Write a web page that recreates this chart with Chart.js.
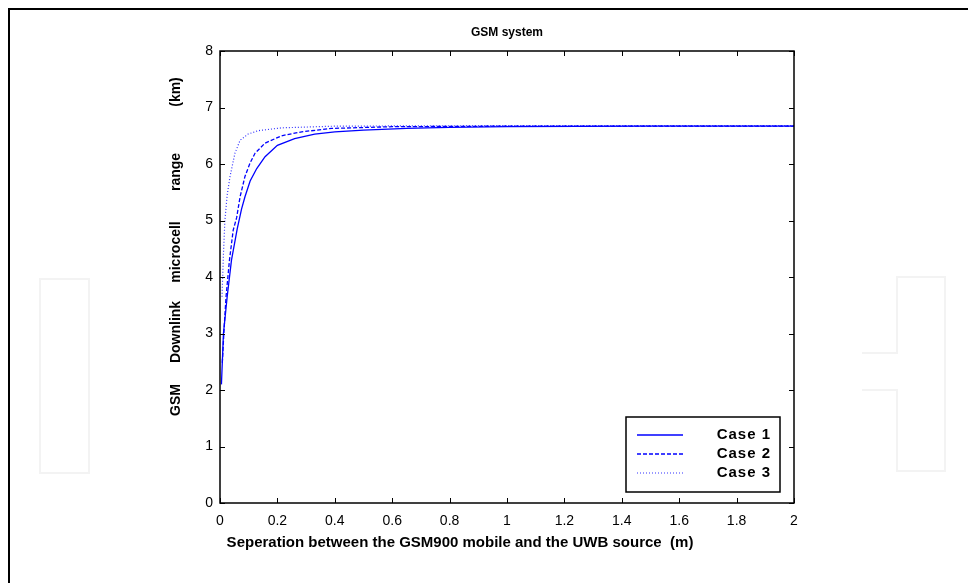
<!DOCTYPE html>
<html>
<head>
<meta charset="utf-8">
<title>GSM system</title>
<script src="https://cdn.jsdelivr.net/npm/chart.js@4"></script>
<style>
    html, body { margin: 0; padding: 0; background: #fff; }
    #wrap { width: 968px; height: 583px; position: relative; }
</style>
</head>
<body>
<div id="wrap"><canvas id="gsmChart" width="968" height="583"></canvas></div>
<script>
// Separation (m) and downlink microcell range (km)
const case1X = [0.005, 0.012, 0.025, 0.04, 0.06, 0.075, 0.087, 0.105, 0.128, 0.157, 0.2, 0.26, 0.33, 0.4, 0.5, 0.65, 0.8, 1.0, 1.5, 2.0];
const case1Y = [2.1, 3.0, 3.65, 4.3, 4.85, 5.2, 5.42, 5.7, 5.92, 6.13, 6.33, 6.45, 6.53, 6.57, 6.6, 6.63, 6.65, 6.66, 6.67, 6.67];

const case2X = [0.008, 0.014, 0.021, 0.033, 0.046, 0.058, 0.07, 0.087, 0.105, 0.122, 0.157, 0.215, 0.285, 0.39, 0.6, 1.0, 2.0];
const case2Y = [2.48, 3.06, 3.65, 4.3, 4.83, 5.05, 5.42, 5.78, 6.02, 6.19, 6.37, 6.5, 6.57, 6.63, 6.66, 6.67, 6.67];

const case3X = [0.007, 0.012, 0.017, 0.025, 0.035, 0.052, 0.07, 0.098, 0.133, 0.215, 0.4, 1.0, 2.0];
const case3Y = [3.65, 4.4, 5.0, 5.45, 5.78, 6.19, 6.42, 6.53, 6.59, 6.64, 6.67, 6.68, 6.68];

const seriesLabels = ['Case 1', 'Case 2', 'Case 3'];
const xTicks = [0, 0.2, 0.4, 0.6, 0.8, 1, 1.2, 1.4, 1.6, 1.8, 2];
const yTicks = [0, 1, 2, 3, 4, 5, 6, 7, 8];

const chartTitle = 'GSM system';
const xTitle = 'Seperation between the GSM900 mobile and the UWB source  (m)';
// y label words, spread out along the axis like the original
const yTitleWords = ['GSM', 'Downlink', 'microcell', 'range', '(km)'];
const yTitleCenters = [400, 332, 252, 172, 92];

const FONT = "'Liberation Sans', Arial, Helvetica, sans-serif";

function toPoints(xs, ys) {
    return xs.map((x, i) => ({ x: x, y: ys[i] }));
}

// page frame, faint watermark shapes, plot box, inward ticks, titles, legend
const decorPlugin = {
    id: 'decor',
    beforeDraw(chart) {
        const ctx = chart.ctx;
        ctx.save();
        ctx.fillStyle = '#fff';
        ctx.fillRect(0, 0, chart.width, chart.height);

        ctx.strokeStyle = '#f3f3f3';
        ctx.lineWidth = 2;
        ctx.strokeRect(40, 279, 49, 194);
        ctx.beginPath();
        ctx.moveTo(862, 353);
        ctx.lineTo(897, 353);
        ctx.lineTo(897, 277);
        ctx.lineTo(945, 277);
        ctx.lineTo(945, 471);
        ctx.lineTo(897, 471);
        ctx.lineTo(897, 390);
        ctx.lineTo(862, 390);
        ctx.stroke();

        ctx.strokeStyle = '#000';
        ctx.lineWidth = 2;
        ctx.beginPath();
        ctx.moveTo(9, chart.height);
        ctx.lineTo(9, 9);
        ctx.lineTo(chart.width, 9);
        ctx.stroke();
        ctx.restore();
    },
    afterDraw(chart) {
        const ctx = chart.ctx;
        const a = chart.chartArea;
        const xs = chart.scales.x;
        const ys = chart.scales.y;
        ctx.save();
        ctx.strokeStyle = '#000';
        ctx.lineWidth = 1.5;
        ctx.strokeRect(a.left, a.top, a.right - a.left, a.bottom - a.top);

        ctx.lineWidth = 1;
        ctx.beginPath();
        xs.ticks.forEach(t => {
            const px = Math.round(xs.getPixelForValue(t.value)) + 0.5;
            ctx.moveTo(px, a.bottom); ctx.lineTo(px, a.bottom - 5);
            ctx.moveTo(px, a.top); ctx.lineTo(px, a.top + 5);
        });
        ys.ticks.forEach(t => {
            const py = Math.round(ys.getPixelForValue(t.value)) + 0.5;
            ctx.moveTo(a.left, py); ctx.lineTo(a.left + 5, py);
            ctx.moveTo(a.right, py); ctx.lineTo(a.right - 5, py);
        });
        ctx.stroke();

        ctx.fillStyle = '#000';
        ctx.textAlign = 'center';
        ctx.textBaseline = 'middle';

        // chart title over the axes
        ctx.font = 'bold 12px ' + FONT;
        ctx.fillText(chartTitle, (a.left + a.right) / 2, 33);

        // x axis title
        ctx.font = 'bold 15px ' + FONT;
        ctx.fillText(xTitle, 460, 543);

        // y axis title, word by word
        ctx.font = 'bold 14px ' + FONT;
        yTitleWords.forEach((w, i) => {
            ctx.save();
            ctx.translate(176, yTitleCenters[i]);
            ctx.rotate(-Math.PI / 2);
            ctx.fillText(w, 0, 0);
            ctx.restore();
        });

        // legend box in lower right of the axes
        const bx = 626, by = 417, bw = 154, bh = 75;
        ctx.fillStyle = '#fff';
        ctx.fillRect(bx, by, bw, bh);
        ctx.strokeStyle = '#000';
        ctx.lineWidth = 1.5;
        ctx.strokeRect(bx, by, bw, bh);
        chart.data.datasets.forEach((ds, i) => {
            const ly = by + 18 + i * 19;
            ctx.strokeStyle = ds.borderColor;
            ctx.lineWidth = ds.borderWidth;
            ctx.setLineDash(ds.borderDash || []);
            ctx.beginPath();
            ctx.moveTo(bx + 11, ly);
            ctx.lineTo(bx + 57, ly);
            ctx.stroke();
            ctx.setLineDash([]);
            ctx.fillStyle = '#000';
            ctx.font = 'bold 15px ' + FONT;
            ctx.letterSpacing = '1px';
            ctx.textAlign = 'right';
            ctx.textBaseline = 'middle';
            ctx.fillText(ds.label, bx + bw - 9, ly);
            ctx.letterSpacing = '0px';
        });
        ctx.restore();
    }
};

new Chart(document.getElementById('gsmChart').getContext('2d'), {
    type: 'line',
    data: {
        datasets: [
            {
                label: seriesLabels[0],
                data: toPoints(case1X, case1Y),
                borderColor: '#0000ff',
                borderWidth: 1.3,
                pointRadius: 0,
                fill: false
            },
            {
                label: seriesLabels[1],
                data: toPoints(case2X, case2Y),
                borderColor: '#0000ff',
                borderWidth: 1.3,
                borderDash: [4, 2],
                pointRadius: 0,
                fill: false
            },
            {
                label: seriesLabels[2],
                data: toPoints(case3X, case3Y),
                borderColor: '#3333ff',
                borderWidth: 1.2,
                borderDash: [1, 2],
                pointRadius: 0,
                fill: false
            }
        ]
    },
    options: {
        responsive: false,
        animation: false,
        layout: { padding: { left: 0, right: 174, top: 51, bottom: 0 } },
        plugins: {
            legend: { display: false },
            tooltip: { enabled: false },
            title: { display: false }
        },
        scales: {
            x: {
                type: 'linear',
                min: 0,
                max: 2,
                afterBuildTicks(scale) {
                    scale.ticks = xTicks.map(v => ({ value: v }));
                },
                afterFit(scale) { scale.height = 80; },
                grid: { display: false, drawTicks: false },
                border: { display: false },
                ticks: {
                    color: '#000',
                    padding: 10,
                    maxRotation: 0,
                    font: { family: FONT, size: 14 },
                    callback: v => String(v)
                }
            },
            y: {
                type: 'linear',
                min: 0,
                max: 8,
                afterBuildTicks(scale) {
                    scale.ticks = yTicks.map(v => ({ value: v }));
                },
                afterFit(scale) { scale.width = 220; },
                grid: { display: false, drawTicks: false },
                border: { display: false },
                ticks: {
                    color: '#000',
                    padding: 7,
                    font: { family: FONT, size: 14 },
                    callback: v => String(v)
                }
            }
        }
    },
    plugins: [decorPlugin]
});
</script>
</body>
</html>
